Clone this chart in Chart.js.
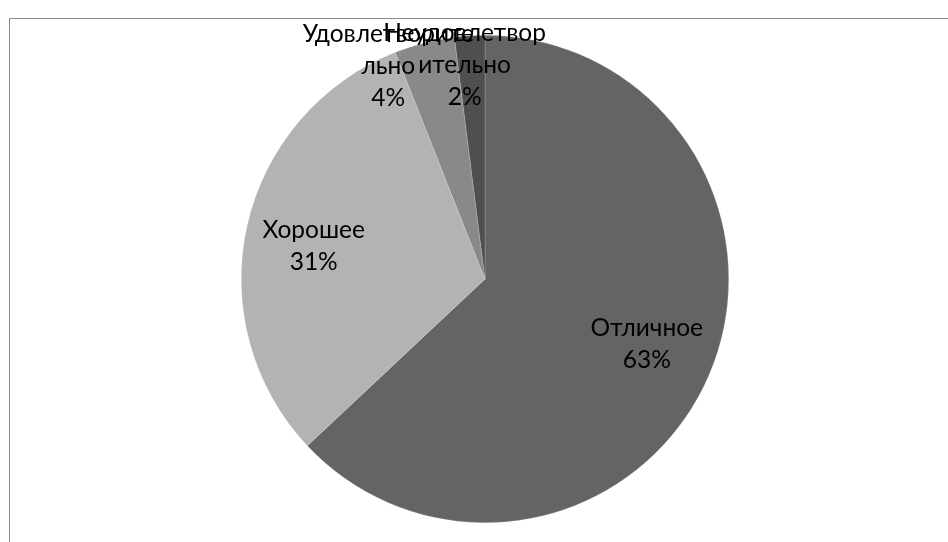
<!DOCTYPE html>
<html>
<head>
<meta charset="utf-8">
<script src="https://cdn.jsdelivr.net/npm/chart.js@4"></script>
<style>
  html, body { margin: 0; padding: 0; background: #fff; overflow: hidden; }
  #wrap { position: relative; width: 948px; height: 542px; }
  #frame { position: absolute; left: 9px; top: 18px; width: 1000px; height: 600px; border: 1px solid #8c8c8c; }
  canvas { position: absolute; left: 0; top: 0; }
</style>
</head>
<body>
<div id="wrap">
  <div id="frame"></div>
  <canvas id="pie" width="948" height="542"></canvas>
</div>
<script>
const categories = ['Отличное', 'Хорошее', 'Удовлетворительно', 'Неудовлетворительно'];
const labelLines = [['Отличное'], ['Хорошее'], ['Удовлетворите', 'льно'], ['Неудовлетвор', 'ительно']];
const values = [63, 31, 4, 2];
const colors = ['#646464', '#b3b3b3', '#898989', '#4f4f4f'];

// label placement: fraction of radius + small pixel nudge
const labelRadius = [0.71, 0.72, 0.87, 0.875];
const labelNudge = [[3, -4], [0, 5], [-44, -8], [-7, -1]];

const total = values.reduce((a, b) => a + b, 0);

const pieLabels = {
    id: 'pieLabels',
    afterDatasetsDraw(chart) {
        const ctx = chart.ctx;
        const meta = chart.getDatasetMeta(0);
        ctx.save();
        ctx.font = '24.5px Lato';
        ctx.fillStyle = '#000';
        ctx.textAlign = 'center';
        ctx.textBaseline = 'middle';
        meta.data.forEach((arc, i) => {
            const mid = (arc.startAngle + arc.endAngle) / 2;
            const r = arc.outerRadius * labelRadius[i];
            const cx = arc.x + Math.cos(mid) * r + labelNudge[i][0];
            const cy = arc.y + Math.sin(mid) * r + labelNudge[i][1];
            const lines = labelLines[i].concat([Math.round(values[i] / total * 100) + '%']);
            const lh = 32;
            const top = cy - (lines.length - 1) * lh / 2;
            lines.forEach((t, j) => ctx.fillText(t, cx, top + j * lh));
        });
        ctx.restore();
    }
};

new Chart(document.getElementById('pie'), {
    type: 'pie',
    data: {
        labels: categories,
        datasets: [{
            data: values,
            backgroundColor: colors,
            borderColor: 'rgba(255,255,255,0.35)',
            borderWidth: 0.5
        }]
    },
    options: {
        responsive: false,
        animation: false,
        layout: { padding: { left: 22, right: 0, top: 35, bottom: 19 } },
        plugins: { legend: { display: false }, tooltip: { enabled: false } }
    },
    plugins: [pieLabels]
});
</script>
</body>
</html>
